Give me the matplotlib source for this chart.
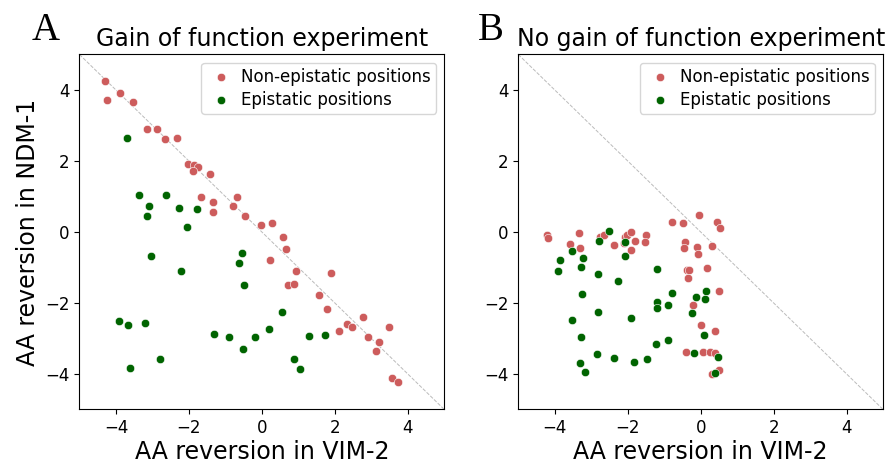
import matplotlib
matplotlib.use("Agg")
import matplotlib.pyplot as plt

# panel A: gain of function experiment
gof_non_x = [-4.29, -4.24, -3.90, -3.53, -3.14, -2.88, -2.66, -2.33, -2.03, -1.85,
             -1.75, -1.89, -1.42, -1.67, -1.34, -1.34, -0.67, -0.79, -0.45, -0.03,
             0.29, 0.59, 0.67, 0.21, 0.94, 1.90, 0.71, 0.88, 1.57, 1.79,
             2.78, 2.33, 2.46, 2.11, 3.49, 2.91, 3.22, 3.12, 3.56, 3.74]
gof_non_y = [4.24, 3.72, 3.92, 3.66, 2.89, 2.89, 2.61, 2.65, 1.92, 1.90,
             1.84, 1.72, 1.62, 0.98, 0.84, 0.55, 0.98, 0.73, 0.44, 0.20,
             0.25, -0.15, -0.47, -0.78, -1.10, -1.15, -1.49, -1.47, -1.78, -2.18,
             -2.40, -2.59, -2.69, -2.78, -2.69, -2.97, -3.11, -3.36, -4.12, -4.23]
gof_epi_x = [-3.69, -3.36, -2.64, -3.10, -3.16, -2.27, -1.79, -2.05, -3.05, -2.21,
             -0.55, -0.64, -0.50, -3.91, -3.67, -3.21, -1.32, -0.90, -0.20, 0.20,
             -0.52, -2.79, -3.62, 0.54, 1.29, 1.73, 0.89, 1.04]
gof_epi_y = [2.65, 1.05, 1.05, 0.73, 0.44, 0.68, 0.66, 0.14, -0.68, -1.09,
             -0.58, -0.86, -1.49, -2.50, -2.62, -2.56, -2.86, -2.95, -2.95, -2.74,
             -3.31, -3.57, -3.82, -2.24, -2.92, -2.89, -3.57, -3.87]

# panel B: no gain of function experiment
ngof_non_x = [-4.21, -4.18, -3.33, -3.57, -3.30, -2.76, -2.64, -2.38, -2.07, -2.02,
              -1.91, -2.09, -1.80, -1.90, -1.51, -1.52, -0.78, -0.49, -0.04, -0.42,
              -0.46, -0.09, -0.08, -0.38, -0.33, -0.36, -0.22, 0.00, -0.39, 0.44,
              0.52, 0.32, 0.18, 0.50, 0.40, 0.07, 0.25, 0.38, 0.50, 0.32]
ngof_non_y = [-0.08, -0.16, -0.02, -0.35, -0.44, -0.14, -0.09, -0.37, -0.14, -0.08,
              -0.01, -0.32, -0.24, -0.51, -0.08, -0.28, 0.27, 0.25, 0.49, -0.27,
              -0.46, -0.43, -0.62, -1.08, -1.08, -1.31, -2.07, -2.61, -3.38, 0.29,
              0.11, -0.39, -1.02, -1.67, -2.80, -3.39, -3.38, -3.42, -3.89, -4.00]
ngof_epi_x = [-2.51, -2.78, -3.52, -3.87, -3.22, -3.92, -3.27, -2.08, -2.07, -2.82,
              -2.28, -1.19, -3.24, -0.79, -1.21, -1.19, -0.89, -0.14, -0.23, -2.82,
              -3.52, -1.91, -3.28, -1.22, -0.90, -2.84, -2.38, -3.31, -3.16, -1.82,
              -1.48, -0.18, 0.15, 0.12, 0.08, 0.47, 0.38]
ngof_epi_y = [0.04, -0.24, -0.53, -0.79, -0.74, -1.11, -0.98, -0.27, -0.67, -1.18,
              -1.37, -1.04, -1.75, -1.73, -1.98, -2.13, -2.06, -1.84, -2.29, -2.24,
              -2.48, -2.42, -2.95, -3.15, -3.05, -3.44, -3.54, -3.69, -3.94, -3.65,
              -3.57, -3.42, -1.65, -1.88, -2.91, -3.52, -3.96]

fig = plt.figure(figsize=(8.95, 4.65), dpi=100)
ax1 = fig.add_axes([0.0888, 0.1194, 0.4076, 0.7634])
ax2 = fig.add_axes([0.5791, 0.1194, 0.4076, 0.7634])

panels = [
    (ax1, gof_non_x, gof_non_y, gof_epi_x, gof_epi_y, "Gain of function experiment"),
    (ax2, ngof_non_x, ngof_non_y, ngof_epi_x, ngof_epi_y, "No gain of function experiment"),
]

for ax, nx, ny, ex, ey, title in panels:
    ax.plot([-5, 5], [5, -5], ls="--", color="#bbbbbb", lw=0.7, zorder=1)
    ax.scatter(nx, ny, s=36, color="indianred", edgecolors="white", linewidths=0.4,
               label="Non-epistatic positions", zorder=2)
    ax.scatter(ex, ey, s=36, color="darkgreen", edgecolors="white", linewidths=0.4,
               label="Epistatic positions", zorder=3)
    ax.set_xlim(-5, 5)
    ax.set_ylim(-5, 5)
    ax.set_xticks([-4, -2, 0, 2, 4])
    ax.set_yticks([-4, -2, 0, 2, 4])
    ax.tick_params(labelsize=12)
    ax.set_xlabel("AA reversion in VIM-2", fontsize=17, labelpad=2)
    ax.set_title(title, fontsize=17)
    ax.legend(loc="upper right", fontsize=12, borderpad=0.3, labelspacing=0.3,
              handlelength=1.8, handletextpad=0.3)

ax1.set_ylabel("AA reversion in NDM-1", fontsize=17)

fig.text(0.051, 0.935, "A", family="Liberation Serif", fontsize=28, ha="center", va="center")
fig.text(0.548, 0.935, "B", family="Liberation Serif", fontsize=28, ha="center", va="center")

fig.savefig("out.png", dpi=100)
